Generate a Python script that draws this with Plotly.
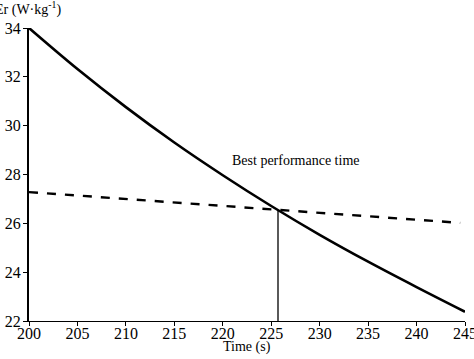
import plotly.graph_objects as go

# Data
time_s = [200, 205, 210, 215, 220, 225, 230, 235, 240, 245]
er_curve = [34.0, 32.32, 30.76, 29.31, 27.97, 26.71, 25.53, 24.43, 23.39, 22.38]
dash_time = [200, 244.5]
dash_values = [27.28, 26.02]
best_time = [225.7, 225.7]
best_values = [22.0, 26.55]
x_ticks = [200, 205, 210, 215, 220, 225, 230, 235, 240, 245]
y_ticks = [22, 24, 26, 28, 30, 32, 34]

font_family = "Liberation Serif, Times New Roman, serif"

fig = go.Figure()
fig.add_trace(go.Scatter(x=time_s, y=er_curve, mode="lines", line=dict(color="black", width=2.6, shape="spline"), showlegend=False, cliponaxis=False))
fig.add_trace(go.Scatter(x=dash_time, y=dash_values, mode="lines", line=dict(color="black", width=2.4, dash="dash"), showlegend=False))
fig.add_trace(go.Scatter(x=best_time, y=best_values, mode="lines", line=dict(color="black", width=1.3), showlegend=False))

fig.add_annotation(x=227.6, y=28.58, xref="x", yref="y", text="Best performance time", showarrow=False,
                   font=dict(family=font_family, size=14, color="black"))
fig.add_annotation(x=-0.083, y=1.068, xref="paper", yref="paper", xanchor="left", yanchor="middle",
                   text="Er (W·kg<sup>-1</sup>)", showarrow=False, font=dict(family=font_family, size=14, color="black"))
fig.add_annotation(x=0.5, y=-0.089, xref="paper", yref="paper", xanchor="center", yanchor="middle",
                   text="Time (s)", showarrow=False, font=dict(family=font_family, size=14, color="black"))

fig.update_layout(
    width=474, height=359,
    margin=dict(l=29, r=9, t=28, b=38),
    paper_bgcolor="white", plot_bgcolor="white",
    font=dict(family=font_family, size=16, color="black"),
    xaxis=dict(range=[200, 245], tickvals=x_ticks, showgrid=False, zeroline=False, automargin=False,
               showline=True, linecolor="black", linewidth=1, ticks="outside", ticklen=4,
               tickcolor="black", tickfont=dict(family=font_family, size=16), ticklabelstandoff=-6,
               ticklabeloverflow="allow"),
    yaxis=dict(range=[22, 34], tickvals=y_ticks, showgrid=False, zeroline=False, automargin=False,
               showline=True, linecolor="black", linewidth=2, ticks="outside", ticklen=4,
               tickcolor="black", tickfont=dict(family=font_family, size=16), ticklabelstandoff=-1,
               ticklabeloverflow="allow"),
)

fig.write_html("out.html", config={"displayModeBar": False},
               post_script="document.body.style.margin='0';document.body.style.overflow='hidden';")
